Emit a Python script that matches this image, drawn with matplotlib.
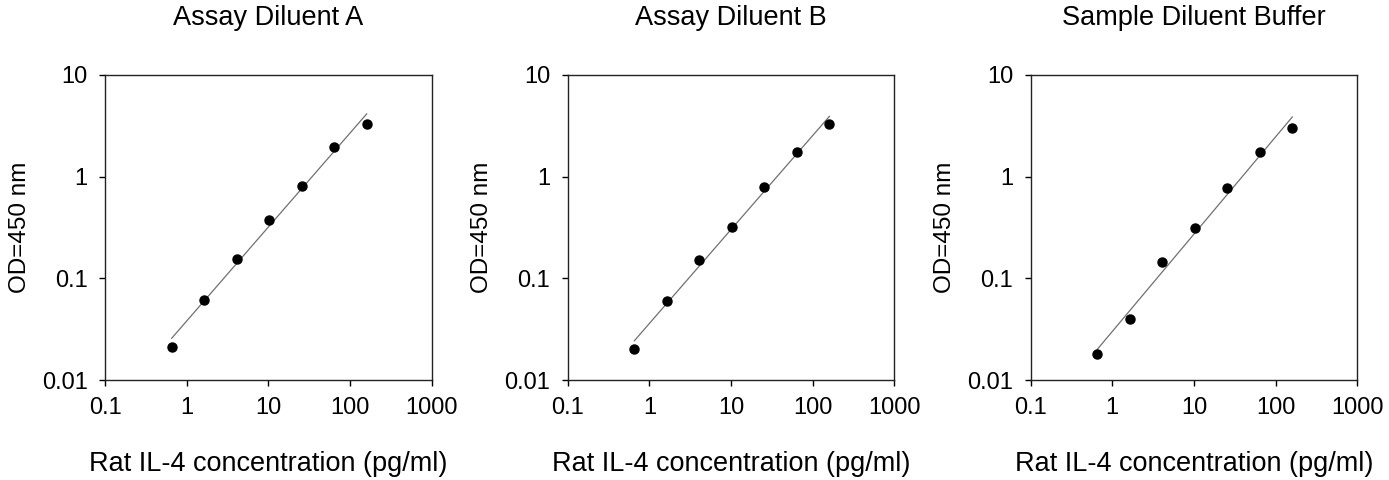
import numpy as np
import matplotlib.pyplot as plt
from matplotlib.ticker import FixedLocator, FixedFormatter, NullLocator

plt.rcParams['font.family'] = ['Liberation Sans', 'DejaVu Sans']

# standard concentrations (pg/ml), 2.5-fold dilutions
conc = [0.655, 1.6384, 4.096, 10.24, 25.6, 64, 160]

# OD450
od_a = [0.0213, 0.0608, 0.156, 0.378, 0.803, 1.96, 3.30]
od_b = [0.0200, 0.0603, 0.151, 0.322, 0.785, 1.76, 3.30]
od_s = [0.0182, 0.0395, 0.1436, 0.315, 0.767, 1.73, 3.01]

titles = ["Assay Diluent A", "Assay Diluent B", "Sample Diluent Buffer"]
x_ticks = [0.1, 1, 10, 100, 1000]
x_labels = ["0.1", "1", "10", "100", "1000"]
y_ticks = [0.01, 0.1, 1, 10]
y_labels = ["0.01", "0.1", "1", "10"]

fig = plt.figure(figsize=(13.89, 4.8), dpi=100)
lefts = [0.0756, 0.4087, 0.742]
w, bottom, h = 0.2352, 0.2083, 0.6355

for left, title, od in zip(lefts, titles, [od_a, od_b, od_s]):
    ax = fig.add_axes([left, bottom, w, h])
    ax.set_xscale('log')
    ax.set_yscale('log')

    # straight line fit in log-log space
    lx = np.log10(conc)
    ly = np.log10(od)
    k, b = np.polyfit(lx, ly, 1)
    xf = np.array([min(conc), max(conc)])
    ax.plot(xf, 10 ** (k * np.log10(xf) + b), color='#707070', lw=0.9, zorder=2)
    ax.plot(conc, od, 'o', color='black', ms=6.5, zorder=3)

    ax.set_xlim(0.1, 1000)
    ax.set_ylim(0.01, 10)
    ax.xaxis.set_major_locator(FixedLocator(x_ticks))
    ax.xaxis.set_major_formatter(FixedFormatter(x_labels))
    ax.yaxis.set_major_locator(FixedLocator(y_ticks))
    ax.yaxis.set_major_formatter(FixedFormatter(y_labels))
    ax.xaxis.set_minor_locator(NullLocator())
    ax.yaxis.set_minor_locator(NullLocator())
    ax.tick_params(axis='x', direction='out', length=4.5, width=1, labelsize=17, pad=8)
    ax.tick_params(axis='y', direction='out', length=4.5, width=1, labelsize=17, pad=8)
    for s in ax.spines.values():
        s.set_linewidth(1)
        s.set_color('#222222')

    ax.set_xlabel("Rat IL-4 concentration (pg/ml)", fontsize=19.5, labelpad=23)
    ax.set_ylabel("OD=450 nm", fontsize=17.5, labelpad=8)
    ax.set_title(title, fontsize=19.5, pad=36)

fig.savefig("out.png", dpi=100)
